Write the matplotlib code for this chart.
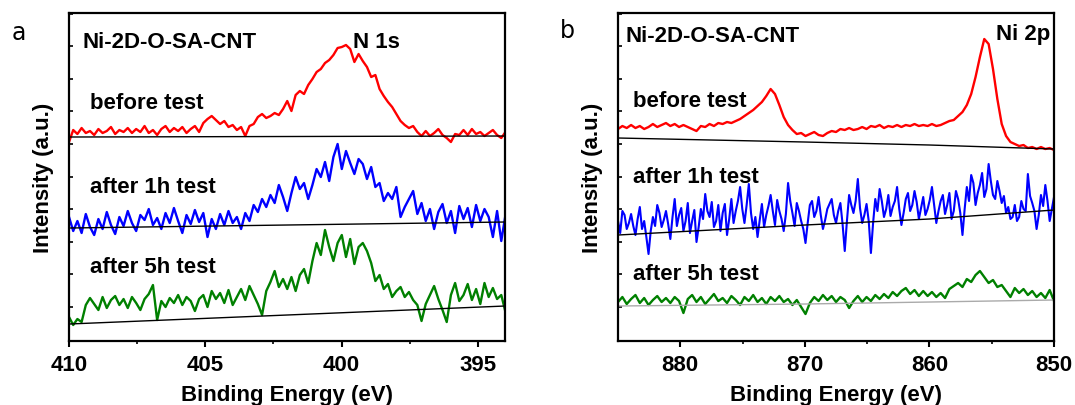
import numpy as np
import matplotlib
matplotlib.use("Agg")
import matplotlib.pyplot as plt

plt.rcParams['font.family'] = ['Liberation Sans', 'DejaVu Sans']
plt.rcParams['font.weight'] = 'bold'
plt.rcParams['axes.labelweight'] = 'bold'
plt.rcParams['font.size'] = 16

# ---------------- N 1s (panel a), step 0.154 eV from 410 eV ----------------
n1s_start, n1s_step = 410.0, 0.154
n1s_before = [199, 211, 207, 213, 208, 210, 206, 212, 208, 210, 214, 207, 211, 209, 213,
              208, 212, 209, 215, 208, 211, 206, 212, 215, 209, 213, 210, 214, 208, 212,
              215, 209, 218, 222, 225, 221, 217, 220, 214, 216, 211, 214, 205, 215, 217,
              224, 227, 223, 225, 228, 226, 232, 240, 230, 246, 250, 247, 256, 262, 269,
              272, 278, 281, 286, 293, 294, 296, 292, 279, 287, 280, 274, 264, 266, 252,
              245, 239, 234, 227, 220, 216, 213, 215, 209, 205, 210, 205, 208, 212, 206,
              203, 199, 207, 206, 211, 206, 212, 207, 209, 205, 208, 211, 206, 203, 209]
n1s_1h = [124, 110, 120, 108, 127, 114, 106, 122, 112, 129, 116, 107, 124, 115, 130,
          118, 110, 126, 121, 132, 116, 123, 112, 128, 118, 133, 120, 108, 126, 117,
          131, 119, 128, 104, 122, 112, 127, 116, 130, 118, 124, 112, 128, 120, 136,
          129, 142, 134, 146, 138, 156, 144, 130, 148, 164, 152, 158, 142, 156, 172,
          164, 179, 160, 184, 197, 172, 190, 178, 167, 182, 177, 162, 174, 154, 158,
          140, 148, 142, 154, 124, 134, 142, 150, 127, 138, 120, 132, 112, 129, 137,
          118, 130, 108, 135, 122, 133, 114, 136, 120, 132, 124, 104, 130, 100, 126]
n1s_5h = [24, 16, 22, 19, 36, 43, 37, 31, 44, 33, 41, 45, 36, 42, 33,
          44, 38, 31, 42, 47, 56, 21, 40, 34, 43, 38, 46, 36, 44, 40,
          30, 42, 46, 34, 50, 42, 48, 38, 51, 36, 44, 52, 41, 55, 46,
          37, 26, 50, 59, 70, 54, 62, 52, 64, 50, 66, 72, 58, 80, 98,
          86, 111, 94, 80, 98, 106, 84, 102, 77, 94, 98, 90, 78, 60, 66,
          52, 57, 44, 50, 54, 44, 49, 41, 36, 20, 37, 46, 55, 42, 31,
          19, 46, 58, 40, 46, 57, 41, 52, 37, 58, 44, 53, 42, 46, 29]
n1s_base_e = [410, 394]
n1s_base_before = [204, 205]
n1s_base_1h = [113, 119]
n1s_base_5h = [17, 35]

# ---------------- Ni 2p (panel b), from 885 eV ----------------
ni_start, ni_step = 885.0, 0.35
ni_before = [212, 215, 213, 216, 213, 215, 212, 214, 217, 214, 216, 218, 215, 217, 214,
             216, 214, 212, 210, 215, 214, 217, 215, 218, 217, 219, 218, 220, 222, 225,
             228, 231, 235, 239, 245, 252, 247, 236, 224, 216, 211, 207, 208, 205, 207,
             209, 206, 205, 208, 210, 209, 212, 211, 213, 211, 212, 214, 212, 215, 214,
             216, 213, 215, 214, 216, 214, 216, 215, 217, 215, 216, 215, 217, 215, 216,
             218, 220, 221, 225, 229, 236, 247, 264, 284, 302, 297, 272, 242, 217, 205,
             199, 197, 195, 196, 193, 194, 192, 194, 192, 193, 191]
# the 1h scan is noisier, read at a finer step (0.175 eV)
ni_1h_step = 0.175
ni_1h = [120, 108, 130, 126, 112, 118, 127, 115, 106, 122, 134, 112, 120, 104, 87, 110,
         124, 115, 136, 128, 114, 121, 130, 117, 102, 124, 142, 115, 126, 133, 110, 120,
         138, 108, 120, 131, 99, 114, 132, 122, 147, 130, 124, 139, 114, 120, 136, 110,
         128, 137, 106, 122, 142, 118, 130, 140, 154, 132, 118, 136, 157, 128, 112, 124,
         104, 121, 137, 114, 126, 135, 146, 130, 116, 141, 130, 122, 110, 127, 158, 140,
         128, 115, 138, 130, 120, 112, 98, 118, 136, 140, 124, 130, 144, 126, 112, 121,
         132, 137, 142, 126, 118, 130, 138, 117, 90, 120, 146, 136, 128, 140, 162, 133,
         118, 126, 137, 120, 88, 118, 142, 130, 152, 140, 124, 132, 146, 125, 134, 140,
         154, 132, 116, 128, 142, 148, 130, 136, 150, 139, 122, 133, 144, 126, 132, 141,
         154, 136, 118, 130, 140, 146, 127, 136, 148, 122, 130, 150, 142, 128, 106, 132,
         154, 140, 166, 158, 136, 148, 156, 168, 144, 152, 177, 160, 146, 142, 160, 150,
         138, 145, 128, 134, 122, 124, 136, 120, 124, 140, 132, 130, 167, 145, 138, 130,
         112, 126, 146, 135, 156, 140, 120, 132, 144]
ni_5h = [39, 44, 37, 42, 46, 38, 43, 36, 41, 45, 39, 43, 38, 44, 40,
         28, 42, 46, 39, 44, 37, 42, 47, 40, 43, 38, 45, 41, 36, 44,
         40, 46, 39, 43, 37, 44, 40, 45, 39, 42, 36, 41, 34, 27, 38,
         44, 40, 46, 41, 45, 39, 44, 41, 33, 40, 45, 39, 44, 40, 46,
         42, 47, 43, 49, 45, 50, 53, 47, 51, 45, 50, 45, 49, 44, 48,
         43, 52, 55, 58, 54, 62, 59, 66, 70, 64, 58, 61, 54, 56, 50,
         44, 53, 48, 52, 46, 50, 44, 48, 43, 51, 40]
ni_base_e = [885, 870, 860, 850]
ni_base_before = [203, 199, 196, 192]
ni_base_1h = [106, 116, 122, 131]
ni_base_5h = [35, 37, 39, 41]

ytick_pos = np.arange(34, 328, 32.6)


def style_axes(ax, xlim, major, minor):
    ax.set_xlim(*xlim)
    ax.set_ylim(0, 328)
    ax.set_xticks(major)
    ax.set_xticks(minor, minor=True)
    ax.set_yticks(ytick_pos)
    ax.set_yticklabels([])
    ax.tick_params(axis='x', which='major', direction='out', length=4, width=1.5, pad=5)
    ax.tick_params(axis='x', which='minor', direction='out', length=2.5, width=1.2)
    ax.tick_params(axis='y', direction='in', length=3, width=1.2)
    for s in ax.spines.values():
        s.set_linewidth(1.6)
    ax.set_xlabel('Binding Energy (eV)', labelpad=7)
    ax.set_ylabel('Intensity (a.u.)', labelpad=7)


fig = plt.figure(figsize=(10.75, 4.06), dpi=100)
ax1 = fig.add_axes([0.0642, 0.1576, 0.4056, 0.8079])
ax2 = fig.add_axes([0.5749, 0.1576, 0.4056, 0.8079])

lw = 1.7

# panel a
e_a = n1s_start - n1s_step * np.arange(len(n1s_before))
ax1.plot(e_a, n1s_before, color='#ff0000', lw=lw)
ax1.plot(e_a, n1s_1h, color='#0000ff', lw=lw)
ax1.plot(e_a, n1s_5h, color='#008000', lw=lw)
ax1.plot(n1s_base_e, n1s_base_before, color='black', lw=1.0)
ax1.plot(n1s_base_e, n1s_base_1h, color='black', lw=1.0)
ax1.plot(n1s_base_e, n1s_base_5h, color='black', lw=1.0)
style_axes(ax1, (410, 394), [410, 405, 400, 395], [407.5, 402.5, 397.5])
ax1.text(0.032, 0.912, 'Ni-2D-O-SA-CNT', transform=ax1.transAxes, va='center')
ax1.text(0.651, 0.912, 'N 1s', transform=ax1.transAxes, va='center')
ax1.text(0.048, 0.726, 'before test', transform=ax1.transAxes, va='center')
ax1.text(0.048, 0.470, 'after 1h test', transform=ax1.transAxes, va='center')
ax1.text(0.048, 0.226, 'after 5h test', transform=ax1.transAxes, va='center')

# panel b
e_b = ni_start - ni_step * np.arange(len(ni_before))
e_b1h = ni_start - ni_1h_step * np.arange(len(ni_1h))
ax2.plot(e_b, ni_before, color='#ff0000', lw=lw)
ax2.plot(e_b1h, ni_1h, color='#0000ff', lw=1.5)
ax2.plot(e_b, ni_5h, color='#008000', lw=lw)
ax2.plot(ni_base_e, ni_base_before, color='black', lw=1.0)
ax2.plot(ni_base_e, ni_base_1h, color='black', lw=1.0)
ax2.plot(ni_base_e, ni_base_5h, color='#aaaaaa', lw=1.0)
style_axes(ax2, (885, 850), [880, 870, 860, 850], [875, 865, 855])
ax2.text(0.018, 0.930, 'Ni-2D-O-SA-CNT', transform=ax2.transAxes, va='center')
ax2.text(0.867, 0.936, 'Ni 2p', transform=ax2.transAxes, va='center')
ax2.text(0.034, 0.732, 'before test', transform=ax2.transAxes, va='center')
ax2.text(0.034, 0.503, 'after 1h test', transform=ax2.transAxes, va='center')
ax2.text(0.034, 0.207, 'after 5h test', transform=ax2.transAxes, va='center')

fig.text(12 / 1075, 1 - 33 / 406, 'a', family='DejaVu Sans', weight='normal',
         fontsize=17, va='center')
fig.text(560 / 1075, 1 - 31 / 406, 'b', family='DejaVu Sans', weight='normal',
         fontsize=17, va='center')

fig.savefig('out.png', dpi=100)
